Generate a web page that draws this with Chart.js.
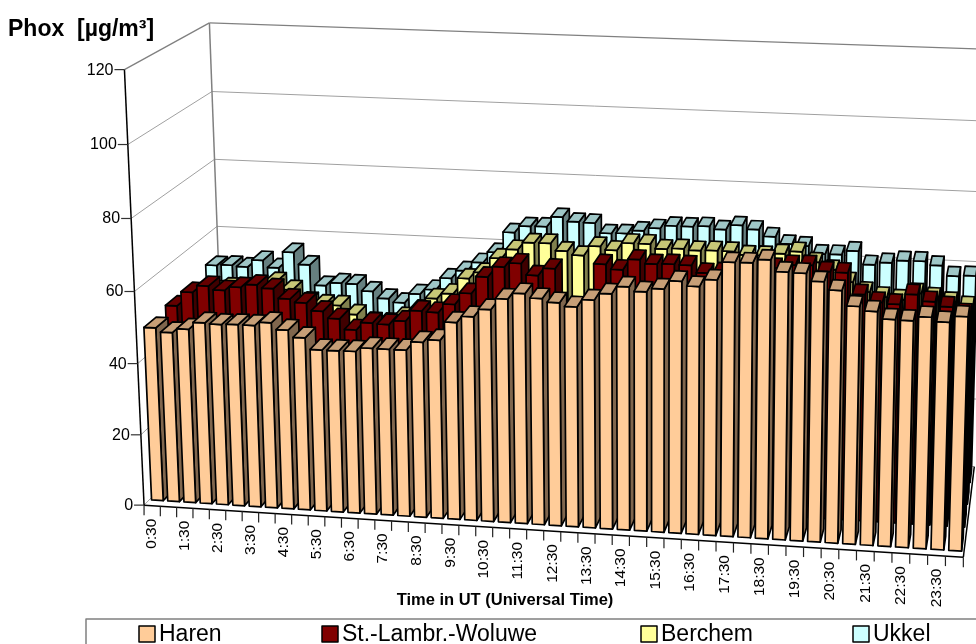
<!DOCTYPE html>
<html><head><meta charset="utf-8">
<style>html,body{margin:0;padding:0;background:#fff;overflow:hidden}canvas{display:block}</style>
<script src="https://cdn.jsdelivr.net/npm/chart.js@4"></script>
</head><body><canvas id="c" width="976" height="644"></canvas>
<script>
const categories = ["0:30","1:00","1:30","2:00","2:30","3:00","3:30","4:00","4:30","5:00","5:30","6:00","6:30","7:00","7:30","8:00","8:30","9:00","9:30","10:00","10:30","11:00","11:30","12:00","12:30","13:00","13:30","14:00","14:30","15:00","15:30","16:00","16:30","17:00","17:30","18:00","18:30","19:00","19:30","20:00","20:30","21:00","21:30","22:00","22:30","23:00","23:30","24:00"];
const seriesNames = ["Haren","St.-Lambr.-Woluwe","Berchem","Ukkel"];
const seriesColors = ["#FFCC99","#800000","#FFFF99","#CCFFFF"];
const haren = [48.9,47.8,49,51,50.8,51,51,52,50.2,48.3,45.2,45.2,45.3,46.4,46.4,46.4,48.8,49.6,54.7,56.5,58.7,61.8,63.5,62.4,61.5,60.6,62.7,64.6,66.7,65.6,66.6,68.9,67.7,69.7,74.6,74.7,75.7,72.7,72.6,70.6,68.5,64.5,63.4,61.5,61.4,62.6,61.5,63.2];
const woluwe = [50,54.1,56.1,55.1,56.2,57.1,56.3,53.6,52.7,50.6,48.7,45.8,48,47.8,49,52.1,51.9,54.4,57.7,62.5,65.5,66.7,63.6,65.7,52.8,50.8,67.6,66.3,69.3,68.3,68.5,68.4,66.5,66.9,67.6,66.8,68.8,69.8,70,68.5,68.4,62.7,60.8,60.5,63.4,61.7,60.5,58.8];
const berchem = [48.8,49.8,50.8,50.8,50.8,53.1,51,47.8,47.2,47.2,44.8,42.8,42.8,44.7,47.1,50.6,52.2,56.8,58.7,63,65.7,67.8,67.9,65.9,64.9,67.7,66.8,69,69,67.8,68.1,67.8,68,68,67.2,67.3,68,68.8,66.1,64.2,61,58.5,57.3,56.8,58.8,57.8,56.8,55.8];
const ukkel = [52,52.3,52,54.2,52.2,57,53.5,47.6,48.6,48.5,46.6,44.7,43.7,46.5,48,51.6,54,56.6,59.8,65.8,67.8,67.9,70.9,69.7,69.6,66.8,67,68,68.9,69.8,69.8,70.1,69.4,70.8,69.8,68,66.1,65.8,63.7,63.8,65,61.3,62.1,62.9,63,62,59.2,59.5];
const seriesValues = [haren, woluwe, berchem, ukkel];
const yTicks = {min:0, max:120, step:20};
const yTitle = "Phox  [µg/m³]";
const xTitle = "Time in UT (Universal Time)";

// camera: where points of the unit cube (u,v,w) are seen on the page
const corners = [
 [0,0,0,143,504],[1,0,0,963,554],[0,0,1,226,422],[1,0,1,975,470],
 [0,1,0,125,69],[1,1,0,978,102],[0,1,1,209.5,22.5],[1,1,1,984,48],
 [0,1/6,0,140,435],[0,1/3,0,137,365],[0,.5,0,134.5,292],[0,2/3,0,131.5,219],[0,5/6,0,128,146],
 [0,2/3,1,214.5,159],[0,5/6,1,211.7,91]];
function fitCamera(pts){
  const A=[],b=[];
  pts.forEach(([u,v,w,x,y])=>{
    A.push([u,v,w,1,0,0,0,0,-x*u,-x*v,-x*w]);b.push(x);
    A.push([0,0,0,0,u,v,w,1,-y*u,-y*v,-y*w]);b.push(y);
  });
  const n=11,M=[];
  for(let i=0;i<n;i++){M.push(new Array(n+1).fill(0));
    for(let j=0;j<n;j++)for(let k=0;k<A.length;k++)M[i][j]+=A[k][i]*A[k][j];
    for(let k=0;k<A.length;k++)M[i][n]+=A[k][i]*b[k];}
  for(let i=0;i<n;i++){let p=i;for(let r=i+1;r<n;r++)if(Math.abs(M[r][i])>Math.abs(M[p][i]))p=r;
    [M[i],M[p]]=[M[p],M[i]];
    for(let r=0;r<n;r++){if(r===i)continue;const f=M[r][i]/M[i][i];for(let c=i;c<=n;c++)M[r][c]-=f*M[i][c];}}
  return M.map((row,i)=>row[n]/row[i]);
}
const P=fitCamera(corners);
function proj(u,v,w){const d=P[8]*u+P[9]*v+P[10]*w+1;
  return [(P[0]*u+P[1]*v+P[2]*w+P[3])/d,(P[4]*u+P[5]*v+P[6]*w+P[7])/d];}
function shade(hex,f){const n=parseInt(hex.slice(1),16);
  return `rgb(${Math.round((n>>16&255)*f)},${Math.round((n>>8&255)*f)},${Math.round((n&255)*f)})`;}
function poly(ctx,pts,fill){ctx.beginPath();pts.forEach((p,i)=>i?ctx.lineTo(p[0],p[1]):ctx.moveTo(p[0],p[1]));ctx.closePath();
  if(fill){ctx.fillStyle=fill;ctx.fill();}ctx.stroke();}
function line(ctx,a,b,color,lw){ctx.strokeStyle=color;ctx.lineWidth=lw;ctx.beginPath();ctx.moveTo(a[0],a[1]);ctx.lineTo(b[0],b[1]);ctx.stroke();}

const SLOT=0.25, INSET=0.06, DEPTH=0.14;
const scene3d={id:'scene3d',
 beforeDatasetsDraw(chart){
  const ctx=chart.ctx,a=chart.chartArea,xs=chart.scales.x,ys=chart.scales.y;
  const U=x=>(x-a.left)/(a.right-a.left), V=y=>(a.bottom-y)/(a.bottom-a.top);
  ctx.save();ctx.lineJoin='round';
  // walls
  ys.ticks.forEach(t=>{const v=V(ys.getPixelForValue(t.value));
    const c=t.value===yTicks.max?'#808080':'#a0a0a0',lw=t.value===yTicks.max?1.3:1;
    line(ctx,proj(0,v,0),proj(0,v,1),c,lw);line(ctx,proj(0,v,1),proj(1,v,1),c,lw);});
  line(ctx,proj(0,0,1),proj(0,1,1),'#808080',1.5);
  // bars, far row first
  for(let s=seriesValues.length-1;s>=0;s--){
    const w0=s*SLOT+INSET,w1=w0+DEPTH;
    const base=shade(seriesColors[s],1),top=shade(seriesColors[s],.78),side=shade(seriesColors[s],.5);
    ctx.strokeStyle='#000';ctx.lineWidth=1.7;
    chart.getDatasetMeta(s).data.forEach(bar=>{
      const p=bar.getProps(['x','y','base','width'],false);
      const u0=U(p.x-p.width/2),u1=U(p.x+p.width/2),vt=V(p.y),vb=V(p.base);
      poly(ctx,[proj(u1,vb,w0),proj(u1,vb,w1),proj(u1,vt,w1),proj(u1,vt,w0)],side);
      poly(ctx,[proj(u0,vb,w0),proj(u1,vb,w0),proj(u1,vt,w0),proj(u0,vt,w0)],base);
      poly(ctx,[proj(u0,vt,w0),proj(u1,vt,w0),proj(u1,vt,w1),proj(u0,vt,w1)],top);
    });
  }
  // axes
  line(ctx,proj(0,0,0),proj(0,1,0),'#000',1.5);
  line(ctx,proj(0,0,0),proj(1,0,0),'#000',1.5);
  line(ctx,proj(1,0,0),proj(1,0,1),'#000',1.5);
  ctx.fillStyle='#000';ctx.textBaseline='middle';ctx.textAlign='right';ctx.font='16px "Liberation Sans"';
  ys.ticks.forEach(t=>{const q=proj(0,V(ys.getPixelForValue(t.value)),0);
    line(ctx,[q[0]-10,q[1]],q,'#333',1.2);
    ctx.fillText(String(t.value),q[0]-11,q[1]+.5);});
  const n=categories.length;
  for(let j=0;j<=n;j++){const q=proj(j/n,0,0);line(ctx,q,[q[0],q[1]+10],'#222',1.2);}
  ctx.font='15.5px "Liberation Sans"';
  xs.ticks.forEach((t,i)=>{ if(i%2) return;
    const q=proj(U(xs.getPixelForTick(i)),0,0);
    ctx.save();ctx.translate(q[0],q[1]+13);ctx.rotate(-Math.PI/2);
    ctx.textAlign='right';ctx.textBaseline='middle';ctx.fillText(categories[i],0,0);ctx.restore();});
  // titles
  ctx.textAlign='left';ctx.textBaseline='alphabetic';
  ctx.font='bold 23px "Liberation Sans"';ctx.fillText(yTitle,8,36);
  ctx.textAlign='center';ctx.font='bold 16.5px "Liberation Sans"';ctx.fillText(xTitle,505,605);
  // legend
  ctx.strokeStyle='#808080';ctx.lineWidth=1.5;ctx.strokeRect(86,619,1000,100);
  const swatch=[139,322,641,853];
  ctx.textAlign='left';ctx.font='23px "Liberation Sans"';
  seriesNames.forEach((nm,i)=>{ctx.fillStyle=seriesColors[i];ctx.strokeStyle='#000';ctx.lineWidth=1.5;
    ctx.fillRect(swatch[i],626,16,16);ctx.strokeRect(swatch[i],626,16,16);
    ctx.fillStyle='#000';ctx.fillText(nm,swatch[i]+20,641);});
  ctx.restore();
  return false;
 }};

new Chart(document.getElementById('c'),{
 type:'bar',
 data:{labels:categories,datasets:seriesNames.map((nm,i)=>({label:nm,data:seriesValues[i],backgroundColor:seriesColors[i],borderColor:'#000',grouped:false,categoryPercentage:1,barPercentage:.72}))},
 options:{responsive:false,animation:false,maintainAspectRatio:false,
  layout:{padding:0},
  plugins:{legend:{display:false},title:{display:false},tooltip:{enabled:false}},
  scales:{x:{type:'category',display:false,ticks:{autoSkip:false}},
          y:{display:false,min:yTicks.min,max:yTicks.max,ticks:{stepSize:yTicks.step}}}},
 plugins:[scene3d]});
</script></body></html>
